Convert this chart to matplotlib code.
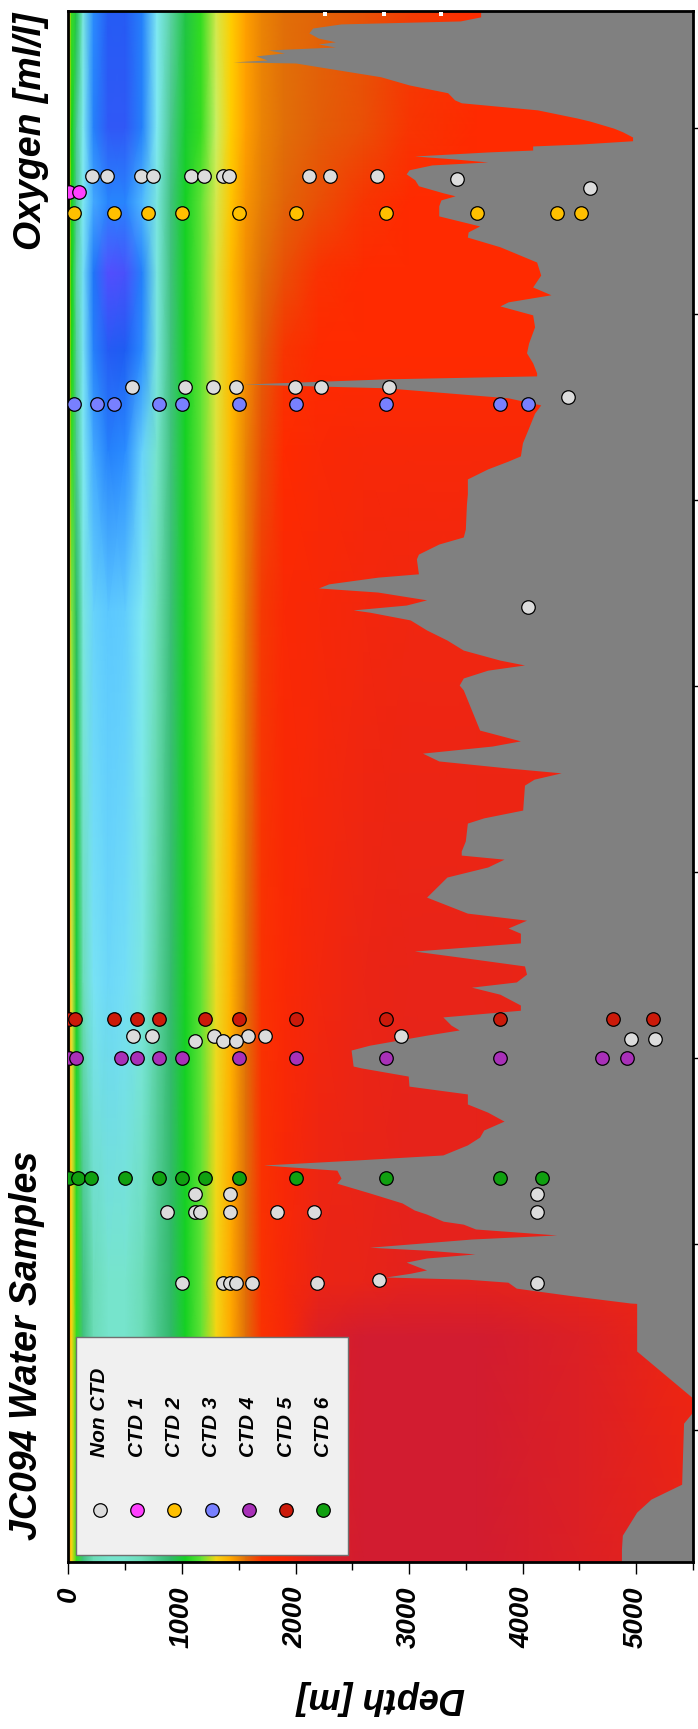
import numpy as np
import matplotlib
matplotlib.use("Agg")
import matplotlib.pyplot as plt
from matplotlib.colors import LinearSegmentedColormap
from matplotlib.patches import Rectangle
from matplotlib.ticker import MultipleLocator

# ---- oxygen section (ml/l): one profile per longitude ----
depth_levels = [0, 30, 70, 130, 220, 350, 500, 650, 780, 900, 1030, 1170, 1300,
                1430, 1560, 1700, 1900, 2200, 2600, 3000, 3600, 4500, 5500]
profile_lons = [-16.86, -20.0, -22.0, -23.9, -26.0, -28.7, -33.0, -43.0, -51.0, -52.5, -58.55]
oxy_16w = [4.75, 4.3, 3.9, 3.1, 2.3, 1.8, 1.8, 2.2, 3.0, 3.4, 3.9, 4.3, 4.55,
           4.75, 5.0, 5.15, 5.3, 5.4, 5.55, 5.75, 5.95, 6.0, 6.0]
oxy_20w = [4.75, 4.2, 3.5, 3.0, 2.2, 1.75, 1.75, 2.2, 3.0, 3.5, 4.0, 4.3, 4.5,
           4.75, 5.0, 5.15, 5.3, 5.45, 5.6, 5.85, 6.0, 6.0, 6.0]
oxy_22w = [4.75, 4.2, 3.5, 3.0, 2.5, 2.25, 2.25, 2.6, 3.1, 3.6, 4.1, 4.35, 4.55,
           4.8, 5.05, 5.2, 5.4, 5.6, 5.85, 6.0, 6.0, 6.0, 6.0]
oxy_24w = [4.8, 4.2, 3.4, 2.9, 2.1, 1.55, 1.6, 2.2, 3.1, 3.6, 4.1, 4.35, 4.6,
           4.85, 5.1, 5.3, 5.6, 5.9, 6.0, 6.0, 6.0, 6.0, 6.0]
oxy_26w = [4.8, 4.25, 3.45, 2.95, 2.2, 1.8, 1.85, 2.3, 3.1, 3.6, 4.1, 4.35, 4.6,
           4.85, 5.1, 5.45, 5.85, 6.0, 6.0, 6.0, 6.0, 6.0, 6.0]
oxy_29w = [4.85, 4.3, 3.5, 3.0, 2.5, 2.2, 2.3, 2.8, 3.2, 3.6, 4.1, 4.35, 4.6,
           4.85, 5.15, 5.6, 6.0, 6.05, 6.1, 6.1, 6.1, 6.1, 6.1]
oxy_33w = [4.9, 4.4, 3.8, 3.1, 2.8, 2.7, 2.75, 3.0, 3.3, 3.65, 4.1, 4.35, 4.6,
           4.85, 5.2, 5.8, 6.05, 6.1, 6.15, 6.2, 6.2, 6.2, 6.2]
oxy_43w = [5.0, 4.6, 4.0, 3.3, 2.95, 2.85, 2.9, 3.1, 3.4, 3.7, 4.1, 4.35, 4.65,
           4.9, 5.25, 5.9, 6.05, 6.15, 6.25, 6.3, 6.3, 6.25, 6.25]
oxy_51w = [5.0, 4.7, 4.3, 3.6, 3.3, 3.2, 3.2, 3.3, 3.5, 3.75, 4.1, 4.35, 4.7,
           4.95, 5.3, 5.9, 6.1, 6.25, 6.3, 6.35, 6.35, 6.3, 6.2]
oxy_52w = [5.0, 4.7, 4.3, 3.6, 3.3, 3.2, 3.2, 3.3, 3.5, 3.75, 4.1, 4.35, 4.7,
           4.95, 5.3, 5.9, 6.1, 6.45, 6.6, 6.6, 6.6, 6.45, 6.2]
oxy_58w = [5.0, 4.7, 4.3, 3.6, 3.3, 3.2, 3.2, 3.3, 3.5, 3.75, 4.1, 4.35, 4.7,
           4.95, 5.3, 5.9, 6.1, 6.45, 6.6, 6.6, 6.6, 6.45, 6.3]

# ---- seafloor along the section ----
bathy_lon = [-16.86, -17.02, -17.13, -17.21, -17.32, -17.45, -17.59, -17.69, -17.75, -17.83,
             -17.91, -17.99, -18.07, -18.18, -18.23, -18.26, -18.34, -18.63, -18.85, -19.06,
             -19.25, -19.33, -19.52, -19.74, -19.82, -20.01, -20.11, -20.25, -20.35, -20.44,
             -20.49, -20.60, -20.65, -20.76, -20.84, -20.92, -21.00, -21.13, -21.24, -21.40,
             -21.56, -21.75, -21.83, -21.94, -22.10, -22.37, -22.64, -22.80, -22.94, -23.20,
             -23.61, -23.96, -24.28, -24.49, -24.68, -24.79, -25.03, -25.35, -25.79, -26.05,
             -26.32, -26.59, -26.67, -26.75, -26.89, -26.99, -27.26, -27.45, -27.67, -28.07,
             -28.47, -28.82, -28.96, -29.17, -29.44, -29.84, -30.11, -30.79, -31.00, -31.19,
             -31.46, -31.59, -31.99, -32.08, -32.26, -32.37, -32.48, -32.69, -32.83, -32.96,
             -33.02, -33.23, -33.50, -33.77, -34.04, -34.31, -34.44, -34.58, -34.79, -34.98,
             -35.11, -35.38, -35.65, -35.92, -36.19, -36.48, -36.62, -36.81, -37.02, -37.21,
             -37.34, -37.51, -37.67, -38.34, -38.55, -38.69, -39.17, -39.44, -39.55, -39.66,
             -39.87, -40.14, -40.68, -41.11, -41.30, -41.51, -41.65, -41.91, -42.13, -42.32,
             -42.53, -42.75, -42.96, -43.10, -43.29, -43.58, -43.72, -43.90, -44.12, -44.25,
             -44.39, -44.66, -44.79, -45.22, -45.27, -45.49, -45.76, -45.97, -46.24, -46.46,
             -46.70, -46.94, -47.13, -47.34, -47.61, -47.75, -47.88, -48.02, -48.23, -48.37,
             -48.63, -48.90, -49.09, -49.20, -49.39, -49.47, -49.60, -49.76, -49.87, -50.09,
             -50.17, -50.27, -50.38, -50.49, -50.62, -50.70, -50.79, -50.89, -50.95, -51.03,
             -51.19, -51.38, -51.59, -51.60, -52.88, -54.12, -54.55, -54.82, -56.46, -56.86,
             -57.21, -57.83, -58.20, -58.55]
bathy_depth = [3630, 3630, 3450, 2400, 2150, 2117, 2200, 2350, 2200, 2350,
               1760, 1900, 1650, 1750, 1450, 2000, 2160, 2750, 3000, 3340,
               3400, 3460, 4130, 4480, 4590, 4800, 4880, 4968, 4968, 4500,
               4088, 4088, 3700, 3046, 3400, 3692, 3200, 3000, 2974, 3050,
               3082, 3300, 3405, 3280, 3261, 3261, 3621, 3520, 3513, 3800,
               4123, 4159, 4088, 4249, 3872, 3800, 4088, 4105, 4052, 4034,
               4088, 4123, 4123, 2794, 1537, 2794, 3872, 4159, 4105, 4052,
               3998, 3980, 3872, 3692, 3513, 3513, 3505, 3495, 3477, 3261,
               3082, 3064, 3082, 2723, 2292, 2202, 2723, 3154, 2974, 2507,
               2650, 3010, 3154, 3333, 3477, 3800, 4016, 3692, 3477, 3441,
               3477, 3513, 3549, 3585, 3621, 3980, 3730, 3118, 3261, 3872,
               4339, 4100, 4016, 4000, 3657, 3513, 3495, 3459, 3459, 3836,
               3692, 3333, 3154, 3513, 4034, 3872, 3980, 3980, 3046, 3513,
               4016, 4034, 3944, 3549, 3800, 3980, 3980, 3297, 3369, 3441,
               3154, 2651, 2489, 2507, 2579, 2992, 2999, 3513, 3513, 3692,
               3836, 3657, 3621, 3513, 3297, 2507, 1717, 2364, 2400, 2364,
               2651, 2938, 3046, 3154, 3300, 3477, 3585, 4300, 3549, 2651,
               3154, 3580, 3154, 2974, 3082, 3154, 3010, 2794, 3513, 3870,
               3944, 4400, 4950, 5004, 5004, 5489, 5489, 5417, 5400, 5130,
               5004, 4878, 4870, 4870]

# ---- water samples ----
nonctd_lon = [-21.31] * 11 + [-21.37, -21.61] + [-26.96] * 7 + [-27.24, -32.89] \
    + [-44.40] * 6 + [-44.56] * 3 + [-44.49] * 2 + [-48.66] * 3 + [-49.15] * 7 \
    + [-51.06] * 7 + [-50.97]
nonctd_depth = [210, 335, 640, 745, 1080, 1195, 1360, 1410, 2120, 2300, 2715, 3420, 4590,
                560, 1030, 1270, 1475, 1995, 2220, 2820, 4400, 4050,
                570, 735, 1285, 1580, 1735, 2930, 1115, 1360, 1475, 4955, 5165,
                1115, 1420, 4125, 865, 1115, 1155, 1420, 1840, 2165, 4125,
                1000, 1365, 1420, 1475, 1620, 2190, 4130, 2735]
ctd1_lon, ctd1_depth = -21.74, [5, 90]
ctd2_lon, ctd2_depth = -22.28, [50, 400, 700, 1000, 1500, 2000, 2800, 3600, 4300, 4510]
ctd3_lon, ctd3_depth = -27.42, [50, 250, 400, 800, 1000, 1500, 2000, 2800, 3800, 4050]
ctd4_lon, ctd4_depth = -45.01, [5, 65, 460, 600, 800, 1000, 1500, 2000, 2800, 3800, 4700, 4920]
ctd5_lon, ctd5_depth = -43.95, [5, 60, 400, 600, 800, 1200, 1500, 2000, 2800, 3800, 4800, 5150]
ctd6_lon, ctd6_depth = -48.24, [5, 85, 200, 500, 800, 1000, 1200, 1500, 2000, 2800, 3800, 4170]
top_mark_depth = [2255, 2776, 3280]

labels = ["Non CTD", "CTD 1", "CTD 2", "CTD 3", "CTD 4", "CTD 5", "CTD 6"]
colors = ["#dcdcdc", "#ff40ff", "#ffc000", "#7880ff", "#a830b8", "#cc1a0a", "#10a010"]

oxy_colors = [(1.5, "#5a4cff"), (1.9, "#1460f0"), (2.3, "#2a8cff"), (2.7, "#5cc8ff"),
              (3.0, "#80eaf2"), (3.25, "#74e2c2"), (3.5, "#4cc890"), (3.75, "#30b868"),
              (4.0, "#18cc30"), (4.25, "#10d810"), (4.5, "#c8f064"), (4.75, "#ffd000"),
              (5.0, "#ffa000"), (5.25, "#e07408"), (5.5, "#e45a08"), (5.75, "#f23e04"),
              (6.0, "#ff2a00"), (6.3, "#e82418"), (6.6, "#d21c30")]
vmin, vmax = oxy_colors[0][0], oxy_colors[-1][0]
cmap = LinearSegmentedColormap.from_list(
    "oxy", [((v - vmin) / (vmax - vmin), c) for v, c in oxy_colors])

font = ["Liberation Sans", "DejaVu Sans"]
bold_it = dict(family=font, weight="bold", style="italic")

fig = plt.figure(figsize=(6.98, 17.29), dpi=100)
ax = fig.add_axes([0.0981, 0.0966, 0.8947, 0.8971])

oxy = np.array([oxy_16w, oxy_20w, oxy_22w, oxy_24w, oxy_26w, oxy_29w,
                oxy_33w, oxy_43w, oxy_51w, oxy_52w, oxy_58w])
D, L = np.meshgrid(depth_levels, profile_lons)
ax.pcolormesh(D, L, oxy, cmap=cmap, vmin=vmin, vmax=vmax, shading="gouraud", zorder=1)

ax.fill_betweenx(bathy_lon, bathy_depth, 5500, color="#808080", lw=0, zorder=2)

mk = dict(s=95, edgecolors="black", linewidths=0.9, zorder=4)
ax.scatter(nonctd_depth, nonctd_lon, c=colors[0], **mk)
for i, (lon, dep) in enumerate([(ctd1_lon, ctd1_depth), (ctd2_lon, ctd2_depth),
                                (ctd3_lon, ctd3_depth), (ctd4_lon, ctd4_depth),
                                (ctd5_lon, ctd5_depth), (ctd6_lon, ctd6_depth)]):
    ax.scatter(dep, [lon] * len(dep), c=colors[i + 1], **mk)
ax.scatter(top_mark_depth, [-16.95] * 3, marker="s", s=6, c="white", lw=0, zorder=3)

ax.set_xlim(0, 5500)
ax.set_ylim(-58.55, -16.86)
ax.xaxis.set_major_locator(MultipleLocator(1000))
ax.xaxis.set_minor_locator(MultipleLocator(500))
ax.tick_params(axis="x", which="major", length=8.5, width=1, pad=9, labelrotation=90,
               labelsize=20)
ax.tick_params(axis="x", which="minor", length=6, width=1)
for lab in ax.get_xticklabels():
    lab.set_family(font)
    lab.set_weight("bold")
    lab.set_style("italic")
ax.yaxis.set_ticks_position("right")
ax.set_yticks(np.arange(-55, -19, 5))
ax.tick_params(axis="y", length=7, width=1, labelright=False, labelleft=False)
for sp in ax.spines.values():
    sp.set_linewidth(2)

# legend box drawn by hand so that entries read sideways
ax.add_patch(Rectangle((0.012, 0.0045), 0.435, 0.1408, transform=ax.transAxes,
                       facecolor="#f0f0f0", edgecolor="#707070", lw=1, zorder=5))
for i, (lab, col) in enumerate(zip(labels, colors)):
    x = 0.0504 + i * 0.0596
    ax.scatter([x], [0.0335], s=95, c=col, edgecolors="black", linewidths=0.9,
               transform=ax.transAxes, zorder=6, clip_on=False)
    ax.text(x, 0.0677, lab, transform=ax.transAxes, rotation=90, ha="center",
            va="bottom", fontsize=15, zorder=6, **bold_it)

fig.text(31 / 698, 1 - 13 / 1729, "Oxygen [ml/l]", rotation=90, ha="center", va="top",
         fontsize=27, **bold_it)
fig.text(27.5 / 698, 1 - 1345 / 1729, "JC094 Water Samples", rotation=90, ha="center",
         va="center", fontsize=27, **bold_it)
fig.text(381 / 698, 1 - 1698 / 1729, "Depth [m]", rotation=180, ha="center", va="center",
         fontsize=26, **bold_it)

fig.savefig("out.png", dpi=100)
